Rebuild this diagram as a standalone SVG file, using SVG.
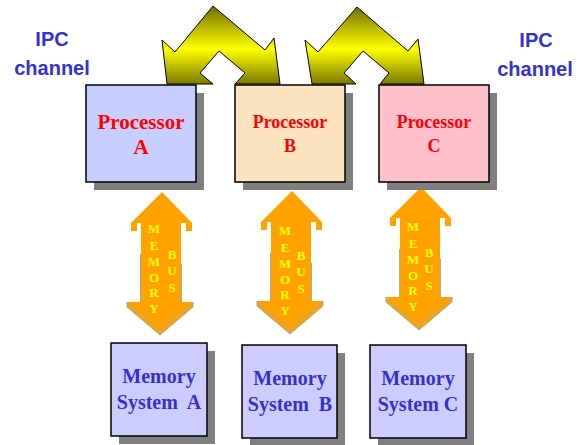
<svg xmlns="http://www.w3.org/2000/svg" width="578" height="445" viewBox="0 0 578 445">
  <style>
    .label { font-family: "Liberation Sans", Arial, sans-serif; font-weight: bold; font-size: 20px; fill: #3333CC; text-anchor: middle; }
    .box { stroke: #000; stroke-width: 1.5; }
    .shadow { fill: #808080; }
    .proc { font-family: "Liberation Serif", "Times New Roman", serif; font-weight: bold; fill: #FF0000; text-anchor: middle; }
    .mem { font-family: "Liberation Serif", "Times New Roman", serif; font-weight: bold; font-size: 20px; fill: #3333CC; text-anchor: middle; }
    .ipc { fill: url(#ipcFill); stroke: #000; stroke-width: 1; stroke-linejoin: miter; }
    .bus { fill: #FFA200; }
    .bevel { fill: none; stroke: #A8A8A8; stroke-width: 1; }
    .busText { font-family: "Liberation Serif", "Times New Roman", serif; font-weight: bold; font-size: 13px; fill: #FFFF00; text-anchor: middle; }
  </style>
  <defs>
    <linearGradient id="ipcFill" gradientUnits="userSpaceOnUse" x1="0" y1="6" x2="0" y2="84">
      <stop offset="0" stop-color="#6E6E00"/>
      <stop offset="0.55" stop-color="#FFFF00"/>
      <stop offset="1" stop-color="#7A7A00"/>
    </linearGradient>
    <!-- double-headed memory bus arrow, origin at the upper tip -->
    <g id="busArrow">
      <polygon class="bus" points="0,0 30,31 -31,31"/>
      <rect class="bus" x="-31" y="31" width="6" height="8"/>
      <rect class="bus" x="24" y="31" width="6" height="8"/>
      <rect class="bus" x="-21" y="30" width="40" height="81"/>
      <line class="bevel" x1="19.5" y1="72" x2="19.5" y2="110"/>
      <line class="bevel" x1="-21.5" y1="62" x2="-21.5" y2="110"/>
      <polygon class="bus" points="-35,110 31,110 31,115 -2,143 -35,115"/>
      <polyline class="bevel" points="-35,110 -35,115 -2,143 31,115 31,110"/>
      <polyline class="bevel" points="-35,111 -2,138 31,111"/>
      <line class="bevel" x1="-2" y1="138" x2="-2" y2="143"/>
    </g>
  </defs>

  <!-- side labels -->
  <g id="label-ipc-left">
    <text class="label" x="52" y="46">IPC</text>
    <text class="label" x="52" y="75">channel</text>
  </g>
  <g id="label-ipc-right">
    <text class="label" x="536" y="47">IPC</text>
    <text class="label" x="535" y="76">channel</text>
  </g>

  <!-- connectors: IPC channels and memory buses -->
  <g id="connectors">
    <polygon id="ipc-ab" class="ipc" points="213,6 175,52 162,40 167,84 213,84 200,73 219,51 245,73 235,84 280,84 274,38 265,50"/>
    <polygon id="ipc-bc" class="ipc" points="357,7 318,52 305,40 312,84 356,84 344,73 363,51 389,73 380,84 424,84 418,39 408,51"/>

    <g id="bus-a">
      <use href="#busArrow" x="162" y="192"/>
      <text class="busText">
        <tspan x="154" y="233">M</tspan><tspan x="154" y="250">E</tspan><tspan x="154" y="266">M</tspan><tspan x="154" y="282">O</tspan><tspan x="154" y="297">R</tspan><tspan x="154" y="313">Y</tspan>
      </text>
      <text class="busText">
        <tspan x="172" y="259">B</tspan><tspan x="172" y="275">U</tspan><tspan x="172" y="292">S</tspan>
      </text>
    </g>
    <g id="bus-b">
      <use href="#busArrow" x="292" y="191"/>
      <text class="busText">
        <tspan x="285" y="235">M</tspan><tspan x="285" y="252">E</tspan><tspan x="285" y="268">M</tspan><tspan x="285" y="284">O</tspan><tspan x="285" y="299">R</tspan><tspan x="285" y="315">Y</tspan>
      </text>
      <text class="busText">
        <tspan x="301" y="260">B</tspan><tspan x="301" y="276">U</tspan><tspan x="301" y="293">S</tspan>
      </text>
    </g>
    <g id="bus-c">
      <use href="#busArrow" x="421" y="187"/>
      <text class="busText">
        <tspan x="413" y="231">M</tspan><tspan x="413" y="248">E</tspan><tspan x="413" y="264">M</tspan><tspan x="413" y="280">O</tspan><tspan x="413" y="295">R</tspan><tspan x="413" y="311">Y</tspan>
      </text>
      <text class="busText">
        <tspan x="429" y="257">B</tspan><tspan x="429" y="273">U</tspan><tspan x="429" y="290">S</tspan>
      </text>
    </g>
  </g>

  <!-- processors -->
  <g id="proc-a">
    <rect class="shadow" x="94" y="93" width="110" height="97"/>
    <rect class="box" x="86" y="85" width="110" height="97" fill="#C6CEFF"/>
    <text class="proc" x="141" y="129" font-size="21">Processor</text>
    <text class="proc" x="141" y="154" font-size="21">A</text>
  </g>
  <g id="proc-b">
    <rect class="shadow" x="243" y="93" width="110" height="97"/>
    <rect class="box" x="235" y="85" width="110" height="97" fill="#FDE3BF"/>
    <text class="proc" x="290" y="128" font-size="18">Processor</text>
    <text class="proc" x="290" y="152" font-size="18">B</text>
  </g>
  <g id="proc-c">
    <rect class="shadow" x="387" y="93" width="110" height="97"/>
    <rect class="box" x="379" y="85" width="110" height="97" fill="#FFC0CB"/>
    <text class="proc" x="434" y="128" font-size="18">Processor</text>
    <text class="proc" x="434" y="152" font-size="18">C</text>
  </g>

  <!-- memory systems -->
  <g id="mem-a">
    <rect class="shadow" x="119" y="351" width="96" height="93"/>
    <rect class="box" x="111" y="343" width="96" height="93" fill="#CCCCFF"/>
    <text class="mem" x="159" y="383">Memory</text>
    <text class="mem" x="159" y="409" xml:space="preserve">System  A</text>
  </g>
  <g id="mem-b">
    <rect class="shadow" x="250" y="353" width="95" height="93"/>
    <rect class="box" x="242" y="345" width="95" height="93" fill="#CCCCFF"/>
    <text class="mem" x="290" y="385">Memory</text>
    <text class="mem" x="290" y="411" xml:space="preserve">System  B</text>
  </g>
  <g id="mem-c">
    <rect class="shadow" x="378" y="353" width="96" height="93"/>
    <rect class="box" x="370" y="345" width="96" height="93" fill="#CCCCFF"/>
    <text class="mem" x="418" y="385">Memory</text>
    <text class="mem" x="418" y="411">System C</text>
  </g>
</svg>
